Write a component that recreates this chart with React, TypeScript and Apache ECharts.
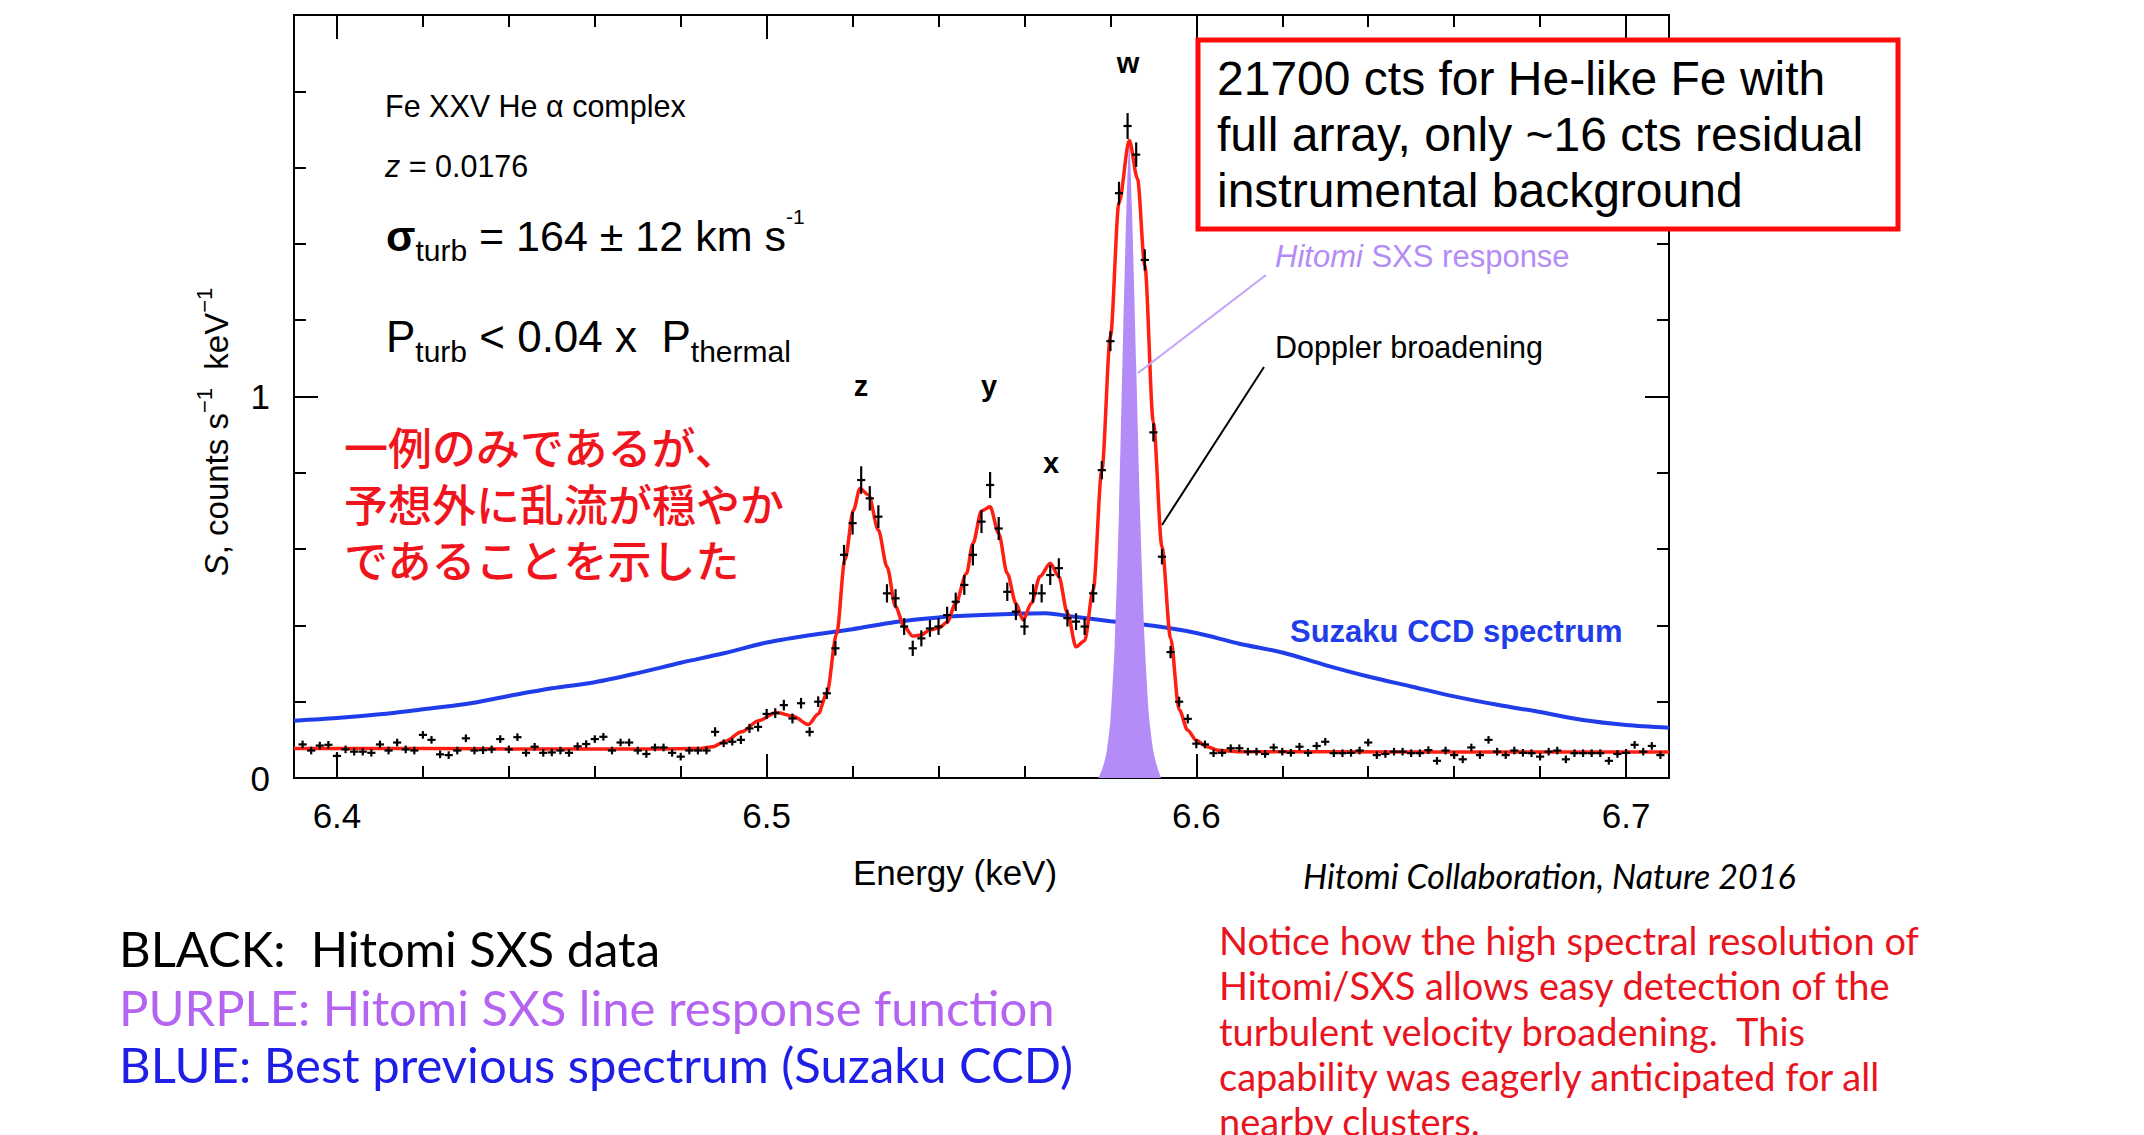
import React, { useEffect, useRef } from 'react';
import * as echarts from 'echarts';

const W = 2144;
const H = 1135;
const GRID = { left: 294, top: 15, width: 1375, height: 763 };
const X_MIN = 6.39;
const X_MAX = 6.71;
const Y_MIN = 0;
const Y_MAX = 2;

// Hitomi SXS binned data (2 eV bins)
const energies = [
  6.392, 6.394, 6.396, 6.398, 6.400, 6.402, 6.404, 6.406, 6.408, 6.410,
  6.412, 6.414, 6.416, 6.418, 6.420, 6.422, 6.424, 6.426, 6.428, 6.430,
  6.432, 6.434, 6.436, 6.438, 6.440, 6.442, 6.444, 6.446, 6.448, 6.450,
  6.452, 6.454, 6.456, 6.458, 6.460, 6.462, 6.464, 6.466, 6.468, 6.470,
  6.472, 6.474, 6.476, 6.478, 6.480, 6.482, 6.484, 6.486, 6.488, 6.490,
  6.492, 6.494, 6.496, 6.498, 6.500, 6.502, 6.504, 6.506, 6.508, 6.510,
  6.512, 6.514, 6.516, 6.518, 6.520, 6.522, 6.524, 6.526, 6.528, 6.530,
  6.532, 6.534, 6.536, 6.538, 6.540, 6.542, 6.544, 6.546, 6.548, 6.550,
  6.552, 6.554, 6.556, 6.558, 6.560, 6.562, 6.564, 6.566, 6.568, 6.570,
  6.572, 6.574, 6.576, 6.578, 6.580, 6.582, 6.584, 6.586, 6.588, 6.590,
  6.592, 6.594, 6.596, 6.598, 6.600, 6.602, 6.604, 6.606, 6.608, 6.610,
  6.612, 6.614, 6.616, 6.618, 6.620, 6.622, 6.624, 6.626, 6.628, 6.630,
  6.632, 6.634, 6.636, 6.638, 6.640, 6.642, 6.644, 6.646, 6.648, 6.650,
  6.652, 6.654, 6.656, 6.658, 6.660, 6.662, 6.664, 6.666, 6.668, 6.670,
  6.672, 6.674, 6.676, 6.678, 6.680, 6.682, 6.684, 6.686, 6.688, 6.690,
  6.692, 6.694, 6.696, 6.698, 6.700, 6.702, 6.704, 6.706, 6.708,
];

const counts = [
  0.088, 0.072, 0.085, 0.087, 0.058, 0.075, 0.069, 0.069, 0.066, 0.088,
  0.072, 0.093, 0.075, 0.072, 0.113, 0.100, 0.062, 0.060, 0.072, 0.104,
  0.072, 0.073, 0.075, 0.102, 0.075, 0.107, 0.066, 0.082, 0.066, 0.067,
  0.072, 0.066, 0.083, 0.089, 0.102, 0.108, 0.072, 0.093, 0.093, 0.072,
  0.063, 0.080, 0.080, 0.066, 0.056, 0.072, 0.072, 0.072, 0.121, 0.091,
  0.095, 0.100, 0.130, 0.134, 0.168, 0.170, 0.191, 0.156, 0.196, 0.121,
  0.200, 0.222, 0.340, 0.585, 0.668, 0.781, 0.733, 0.685, 0.484, 0.471,
  0.397, 0.340, 0.366, 0.392, 0.397, 0.427, 0.462, 0.506, 0.585, 0.672,
  0.768, 0.654, 0.488, 0.436, 0.397, 0.484, 0.484, 0.532, 0.550, 0.419,
  0.410, 0.397, 0.484, 0.807, 1.145, 1.533, 1.709, 1.634, 1.358, 0.906,
  0.580, 0.330, 0.200, 0.155, 0.090, 0.088, 0.065, 0.066, 0.078, 0.078,
  0.069, 0.069, 0.063, 0.080, 0.069, 0.066, 0.082, 0.066, 0.084, 0.095,
  0.065, 0.065, 0.066, 0.072, 0.093, 0.060, 0.063, 0.069, 0.069, 0.065,
  0.065, 0.073, 0.045, 0.072, 0.060, 0.049, 0.080, 0.060, 0.100, 0.069,
  0.060, 0.072, 0.066, 0.065, 0.056, 0.069, 0.072, 0.049, 0.065, 0.065,
  0.065, 0.065, 0.045, 0.063, 0.066, 0.087, 0.069, 0.084, 0.060,
];

const errors = [
  0.010, 0.010, 0.010, 0.010, 0.010, 0.010, 0.010, 0.010, 0.010, 0.010,
  0.010, 0.010, 0.010, 0.010, 0.010, 0.010, 0.010, 0.010, 0.010, 0.010,
  0.010, 0.010, 0.010, 0.010, 0.010, 0.010, 0.010, 0.010, 0.010, 0.010,
  0.010, 0.010, 0.010, 0.010, 0.010, 0.010, 0.010, 0.010, 0.010, 0.010,
  0.010, 0.010, 0.010, 0.010, 0.010, 0.010, 0.010, 0.010, 0.012, 0.010,
  0.010, 0.011, 0.012, 0.012, 0.013, 0.013, 0.014, 0.013, 0.014, 0.012,
  0.014, 0.015, 0.019, 0.026, 0.030, 0.036, 0.032, 0.030, 0.024, 0.024,
  0.022, 0.020, 0.021, 0.022, 0.022, 0.022, 0.024, 0.026, 0.028, 0.030,
  0.034, 0.030, 0.024, 0.022, 0.022, 0.024, 0.024, 0.026, 0.026, 0.022,
  0.022, 0.022, 0.024, 0.024, 0.026, 0.030, 0.034, 0.032, 0.028, 0.024,
  0.020, 0.016, 0.013, 0.012, 0.012, 0.010, 0.010, 0.010, 0.010, 0.010,
  0.010, 0.010, 0.010, 0.010, 0.010, 0.010, 0.010, 0.010, 0.010, 0.010,
  0.010, 0.010, 0.010, 0.010, 0.010, 0.010, 0.010, 0.010, 0.010, 0.010,
  0.010, 0.010, 0.010, 0.010, 0.010, 0.010, 0.010, 0.010, 0.010, 0.010,
  0.010, 0.010, 0.010, 0.010, 0.010, 0.010, 0.010, 0.010, 0.010, 0.010,
  0.010, 0.010, 0.010, 0.010, 0.010, 0.010, 0.010, 0.010, 0.010,
];

// Red best-fit model (Doppler broadened)
const modelCurve = [
  [6.390, 0.077], [6.420, 0.077], [6.450, 0.076], [6.475, 0.076], [6.484, 0.077],
  [6.4875, 0.082], [6.4903, 0.096], [6.4942, 0.121], [6.4981, 0.150], [6.5023, 0.172],
  [6.5062, 0.162], [6.5097, 0.140], [6.512, 0.168], [6.514, 0.222], [6.5163, 0.379],
  [6.5182, 0.571], [6.5202, 0.702], [6.5217, 0.759], [6.5237, 0.742], [6.526, 0.650],
  [6.528, 0.554], [6.530, 0.449], [6.532, 0.397], [6.534, 0.372], [6.536, 0.375],
  [6.538, 0.388], [6.540, 0.393], [6.542, 0.408], [6.544, 0.458], [6.5465, 0.536],
  [6.548, 0.615], [6.550, 0.700], [6.552, 0.711], [6.554, 0.641], [6.556, 0.536],
  [6.558, 0.458], [6.5597, 0.414], [6.5616, 0.458], [6.5636, 0.528], [6.566, 0.563],
  [6.568, 0.528], [6.570, 0.432], [6.572, 0.344], [6.574, 0.360], [6.576, 0.493],
  [6.578, 0.806], [6.580, 1.157], [6.582, 1.508], [6.5844, 1.671], [6.5863, 1.571],
  [6.588, 1.345], [6.590, 0.932], [6.592, 0.606], [6.594, 0.367], [6.596, 0.179],
  [6.598, 0.125], [6.600, 0.098], [6.6025, 0.082], [6.605, 0.073], [6.610, 0.069],
  [6.650, 0.068], [6.710, 0.068],
];

// Blue Suzaku CCD spectrum
const suzakuCurve = [
  [6.390, 0.150], [6.400, 0.157], [6.410, 0.167], [6.420, 0.180], [6.430, 0.194],
  [6.440, 0.215], [6.450, 0.235], [6.460, 0.251], [6.470, 0.275], [6.480, 0.302],
  [6.490, 0.327], [6.500, 0.355], [6.510, 0.374], [6.520, 0.390], [6.530, 0.409],
  [6.540, 0.421], [6.550, 0.427], [6.560, 0.431], [6.565, 0.432], [6.570, 0.425],
  [6.580, 0.411], [6.590, 0.399], [6.600, 0.380], [6.610, 0.352], [6.620, 0.329],
  [6.630, 0.296], [6.640, 0.266], [6.650, 0.240], [6.660, 0.214], [6.670, 0.192],
  [6.680, 0.173], [6.690, 0.152], [6.700, 0.139], [6.710, 0.132],
];

// Purple Hitomi SXS line response
const responseCurve = [
  [6.5772, 0], [6.578, 0.02], [6.579, 0.06], [6.580, 0.15], [6.581, 0.35],
  [6.582, 0.70], [6.583, 1.18], [6.5838, 1.52], [6.5844, 1.67], [6.585, 1.50],
  [6.586, 1.08], [6.587, 0.66], [6.588, 0.35], [6.589, 0.16], [6.590, 0.07],
  [6.591, 0.025], [6.5918, 0],
];

const xMajorTicks = [6.4, 6.5, 6.6, 6.7];
const xMinorTicks = [6.4, 6.42, 6.44, 6.46, 6.48, 6.5, 6.52, 6.54, 6.56, 6.58, 6.6, 6.62, 6.64, 6.66, 6.68, 6.7];
const yMajorTicks = [0, 1, 2];
const yMinorTicks = [0, 0.2, 0.4, 0.6, 0.8, 1, 1.2, 1.4, 1.6, 1.8, 2];
const yLabelValues = [0, 1];

const HELV = '"Liberation Sans", Arial, Helvetica, sans-serif';
const AVEN = 'Lato, "Noto Sans", sans-serif';
const JP = '"Noto Sans CJK JP", "Noto Sans CJK SC", sans-serif';

const PURPLE = '#b48cf7';
const BLUE = '#1f3de8';
const RED = '#ff1e12';

function txt(x: number, baseline: number, text: string, fs: number, o: any = {}) {
  const ff = o.fontFamily || HELV;
  const k = ff === AVEN ? 0.37 : ff === JP ? 0.38 : 0.35;
  return {
    type: 'text',
    x,
    y: baseline - k * fs,
    z: 100,
    style: {
      text,
      fontSize: fs,
      fontFamily: ff,
      fill: o.fill || '#000',
      fontStyle: o.fontStyle || 'normal',
      fontWeight: o.fontWeight || 'normal',
      align: o.align || 'left',
      verticalAlign: 'middle',
      rich: o.rich,
      lineHeight: o.lineHeight,
    },
  };
}

// Rich text line with sub/superscripts; "baseline" is the base font baseline
function richLine(x: number, baseline: number, text: string, base: number, sub: number, sup: number, boldToken = false) {
  const LH = 60;
  const top = baseline - (LH / 2 + 0.35 * base);
  return {
    type: 'text',
    x,
    y: top,
    z: 100,
    style: {
      text,
      align: 'left',
      verticalAlign: 'top',
      fill: '#000',
      rich: {
        n: { fontSize: base, fontFamily: HELV, lineHeight: LH, verticalAlign: 'middle', color: '#000' },
        b: { fontSize: base, fontFamily: HELV, fontWeight: 'bold', lineHeight: LH, verticalAlign: 'middle', color: '#000' },
        s: { fontSize: sub, fontFamily: HELV, lineHeight: sub, verticalAlign: 'bottom', color: '#000' },
        p: { fontSize: sup, fontFamily: HELV, lineHeight: 30, verticalAlign: 'top', color: '#000' },
      },
    },
  };
}

function axisCommon(extra: any) {
  return {
    type: 'value',
    gridIndex: 0,
    splitLine: { show: false },
    ...extra,
  };
}

export default function App() {
  const ref = useRef<HTMLDivElement>(null);

  useEffect(() => {
    if (!ref.current) return;
    const chart = echarts.init(ref.current, undefined, { renderer: 'svg' });

    const points = energies.map((e, i) => [e, counts[i], errors[i]]);

    const tickLine = { color: '#000', width: 2 };
    const noLine = { show: false, onZero: false };
    const xAxes = [
      axisCommon({
        min: X_MIN, max: X_MAX, position: 'bottom', axisLine: noLine,
        axisTick: { show: true, inside: true, length: 24, customValues: xMajorTicks, lineStyle: tickLine },
        axisLabel: {
          show: true, customValues: xMajorTicks, margin: 20, fontSize: 35, color: '#000', fontFamily: HELV,
          formatter: (v: number) => v.toFixed(1),
        },
      }),
      axisCommon({
        min: X_MIN, max: X_MAX, position: 'bottom', axisLine: noLine,
        axisTick: { show: true, inside: true, length: 12, customValues: xMinorTicks, lineStyle: tickLine },
        axisLabel: { show: false },
      }),
      axisCommon({
        min: X_MIN, max: X_MAX, position: 'top', axisLine: noLine,
        axisTick: { show: true, inside: true, length: 24, customValues: xMajorTicks, lineStyle: tickLine },
        axisLabel: { show: false },
      }),
      axisCommon({
        min: X_MIN, max: X_MAX, position: 'top', axisLine: noLine,
        axisTick: { show: true, inside: true, length: 12, customValues: xMinorTicks, lineStyle: tickLine },
        axisLabel: { show: false },
      }),
    ];
    const yAxes = [
      axisCommon({
        min: Y_MIN, max: Y_MAX, position: 'left', axisLine: noLine,
        axisTick: { show: true, inside: true, length: 24, customValues: yMajorTicks, lineStyle: tickLine },
        axisLabel: {
          show: true, customValues: yLabelValues, margin: 24, fontSize: 35, color: '#000', fontFamily: HELV,
          formatter: (v: number) => String(v),
        },
      }),
      axisCommon({
        min: Y_MIN, max: Y_MAX, position: 'left', axisLine: noLine,
        axisTick: { show: true, inside: true, length: 12, customValues: yMinorTicks, lineStyle: tickLine },
        axisLabel: { show: false },
      }),
      axisCommon({
        min: Y_MIN, max: Y_MAX, position: 'right', axisLine: noLine,
        axisTick: { show: true, inside: true, length: 24, customValues: yMajorTicks, lineStyle: tickLine },
        axisLabel: { show: false },
      }),
      axisCommon({
        min: Y_MIN, max: Y_MAX, position: 'right', axisLine: noLine,
        axisTick: { show: true, inside: true, length: 12, customValues: yMinorTicks, lineStyle: tickLine },
        axisLabel: { show: false },
      }),
    ];

    const redTxt = '#e8141e';
    const graphic: any[] = [
      // annotations in plot
      txt(385, 117, 'Fe XXV He α complex', 30.5),
      txt(385, 177, '{i|z}{n| = 0.0176}', 30.5, {
        rich: { i: { fontStyle: 'italic', fontSize: 30.5, fontFamily: HELV }, n: { fontSize: 30.5, fontFamily: HELV } },
      }),
      richLine(386, 251, '{b|σ}{s|turb}{n| = 164 ± 12 km s}{p|-1}', 43, 30, 21),
      richLine(386, 352, '{n|P}{s|turb}{n| < 0.04 x  P}{s|thermal}', 44, 30, 21),
      // line identifiers
      txt(861, 396, 'z', 29, { align: 'center', fontWeight: 'bold' }),
      txt(989, 396, 'y', 29, { align: 'center', fontWeight: 'bold' }),
      txt(1051, 473, 'x', 29, { align: 'center', fontWeight: 'bold' }),
      txt(1128, 73, 'w', 29, { align: 'center', fontWeight: 'bold' }),
      // Japanese comment
      {
        type: 'text', z: 100, x: 344, y: 418,
        style: {
          text: '一例のみであるが、\n予想外に乱流が穏やか\nであることを示した',
          fontSize: 44, fontFamily: JP, fontWeight: 500, fill: '#f0141c',
          lineHeight: 56.5, align: 'left', verticalAlign: 'top',
        },
      },
      // red box
      {
        type: 'rect', z: 99,
        shape: { x: 1198, y: 40, width: 700, height: 189 },
        style: { fill: '#fff', stroke: '#ff0a0a', lineWidth: 5 },
      },
      txt(1217, 95, '21700 cts for He-like Fe with', 48),
      txt(1217, 151, 'full array, only ~16 cts residual', 48),
      txt(1217, 207, 'instrumental background', 48),
      // response & doppler labels
      txt(1275, 267, '{i|Hitomi}{n| SXS response}', 31, {
        fill: PURPLE,
        rich: {
          i: { fontStyle: 'italic', fontSize: 31, fontFamily: HELV, color: PURPLE },
          n: { fontSize: 31, fontFamily: HELV, color: PURPLE },
        },
      }),
      {
        type: 'line', z: 100,
        shape: { x1: 1266, y1: 275, x2: 1138, y2: 373 },
        style: { stroke: '#c4a4f8', lineWidth: 2.2 },
      },
      txt(1275, 358, 'Doppler broadening', 30.5),
      {
        type: 'line', z: 100,
        shape: { x1: 1264, y1: 367, x2: 1162, y2: 525 },
        style: { stroke: '#000', lineWidth: 2 },
      },
      txt(1290, 642, 'Suzaku CCD spectrum', 31, { fontWeight: 'bold', fill: BLUE }),
      // axis titles
      txt(955, 885, 'Energy (keV)', 35, { align: 'center' }),
      {
        type: 'text', z: 100, x: 216, y: 432, rotation: Math.PI / 2,
        style: {
          text: '{i|S}{n|, counts s}{s|−1}{n|  keV}{s|−1}',
          align: 'center', verticalAlign: 'middle', fill: '#000',
          rich: {
            i: { fontStyle: 'italic', fontSize: 33, fontFamily: HELV, lineHeight: 46, verticalAlign: 'middle' },
            n: { fontSize: 33, fontFamily: HELV, lineHeight: 46, verticalAlign: 'middle' },
            s: { fontSize: 22, fontFamily: HELV, lineHeight: 22, verticalAlign: 'top' },
          },
        },
      },
      // citation
      txt(1303, 888, 'Hitomi Collaboration, Nature 2016', 34, { fontFamily: AVEN, fontStyle: 'italic' }),
      // bottom legend text
      txt(119, 966, 'BLACK:  Hitomi SXS data', 49, { fontFamily: AVEN, fill: '#000' }),
      txt(119, 1025, 'PURPLE: Hitomi SXS line response function', 49, { fontFamily: AVEN, fill: '#b464f0' }),
      txt(119, 1082, 'BLUE: Best previous spectrum (Suzaku CCD)', 49, { fontFamily: AVEN, fill: '#1e1ee6' }),
      // red paragraph
      txt(1219, 954, 'Notice how the high spectral resolution of', 38, { fontFamily: AVEN, fill: redTxt }),
      txt(1219, 999, 'Hitomi/SXS allows easy detection of the', 38, { fontFamily: AVEN, fill: redTxt }),
      txt(1219, 1045, 'turbulent velocity broadening.  This', 38, { fontFamily: AVEN, fill: redTxt }),
      txt(1219, 1090, 'capability was eagerly anticipated for all', 38, { fontFamily: AVEN, fill: redTxt }),
      txt(1219, 1135, 'nearby clusters.', 38, { fontFamily: AVEN, fill: redTxt }),
    ];

    const option: any = {
      animation: false,
      backgroundColor: '#fff',
      grid: { ...GRID, containLabel: false, show: true, borderColor: '#000', borderWidth: 2, backgroundColor: 'transparent' },
      xAxis: xAxes,
      yAxis: yAxes,
      graphic,
      series: [
        {
          type: 'line', name: 'Suzaku CCD', data: suzakuCurve, xAxisIndex: 0, yAxisIndex: 0,
          smooth: 0.3, symbol: 'none', lineStyle: { color: BLUE, width: 4 }, z: 2,
        },
        {
          type: 'line', name: 'SXS response', data: responseCurve, xAxisIndex: 0, yAxisIndex: 0,
          smooth: 0.2, symbol: 'none', lineStyle: { width: 0, color: PURPLE },
          areaStyle: { color: PURPLE, opacity: 1 }, z: 3,
        },
        {
          type: 'line', name: 'Model', data: modelCurve, xAxisIndex: 0, yAxisIndex: 0,
          smooth: 0.3, smoothMonotone: 'x', symbol: 'none', lineStyle: { color: RED, width: 3.5 }, z: 4,
        },
        {
          type: 'custom', name: 'SXS data', data: points, xAxisIndex: 0, yAxisIndex: 0, z: 5,
          encode: { x: 0, y: 1 },
          renderItem: (params: any, api: any) => {
            const e = api.value(0);
            const v = api.value(1);
            const er = api.value(2);
            const top = api.coord([e, v + er]);
            const bot = api.coord([e, v - er]);
            const l = api.coord([e - 0.00095, v]);
            const r = api.coord([e + 0.00095, v]);
            return {
              type: 'group',
              children: [
                { type: 'line', shape: { x1: top[0], y1: top[1], x2: bot[0], y2: bot[1] }, style: { stroke: '#000', lineWidth: 2.2 } },
                { type: 'line', shape: { x1: l[0], y1: l[1], x2: r[0], y2: r[1] }, style: { stroke: '#000', lineWidth: 2.2 } },
              ],
            };
          },
        },
      ],
    };

    chart.setOption(option);
    return () => chart.dispose();
  }, []);

  return (
    <div
      ref={ref}
      style={{ position: 'absolute', left: 0, top: 0, width: W, height: H, background: '#fff' }}
    />
  );
}
